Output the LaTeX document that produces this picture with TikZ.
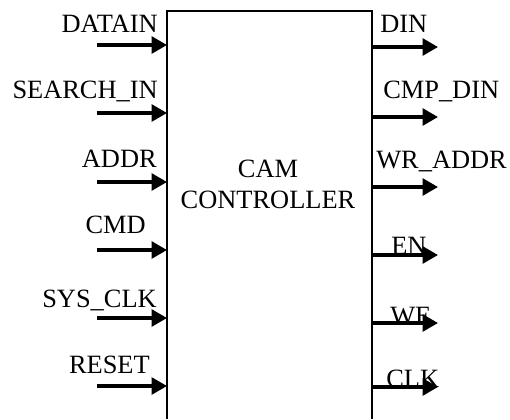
\documentclass[tikz,border=0pt]{standalone}
\usepackage{fontspec}
\setmainfont{Liberation Serif}
\usetikzlibrary{arrows.meta}
\tikzset{
  sig/.style={line width=2.6pt,-{Triangle[length=11.5pt,width=12.5pt]}},
  pinlabel/.style={font=\fontsize{19.8}{24}\selectfont,inner sep=0pt},
  block/.style={line width=1.6pt},
}
\begin{document}
\begin{tikzpicture}[x=0.75pt,y=-0.75pt]
\useasboundingbox (0,0) rectangle (510,419);
% controller block, open at the bottom
\draw[block] (167,419) coordinate (bl) -- (167,11) coordinate (tl)
  -- (372,11) coordinate (tr) -- (372,419) coordinate (br);
\node[pinlabel,anchor=base] (name1) at (268,177) {CAM};
\node[pinlabel,anchor=base] (name2) at (268,208) {CONTROLLER};
% inputs
\foreach \y/\lab/\bx/\by [count=\i] in {45/DATAIN/158/32, 113/SEARCH\_IN/158/98,
    182/ADDR/157/167, 250/CMD/146/233, 318/SYS\_CLK/157/307, 386/RESET/150/373}
{
  \coordinate (in\i) at (97,\y);
  \coordinate (pin\i) at (167,\y);
  \node[pinlabel,anchor=base east] (inlab\i) at (\bx,\by) {\lab};
  \draw[sig] (in\i) -- (pin\i);
}
% outputs
\foreach \y/\lab/\bx/\by [count=\i] in {47/DIN/380/32, 117/CMP\_DIN/383/98,
    187/WR\_ADDR/376/168, 255/EN/391/254, 323/WE/390/324, 387/CLK/386/387}
{
  \coordinate (pout\i) at (371,\y);
  \coordinate (out\i) at (438,\y);
  \node[pinlabel,anchor=base west] (outlab\i) at (\bx,\by) {\lab};
  \draw[sig] (pout\i) -- (out\i);
}
\end{tikzpicture}
\end{document}
